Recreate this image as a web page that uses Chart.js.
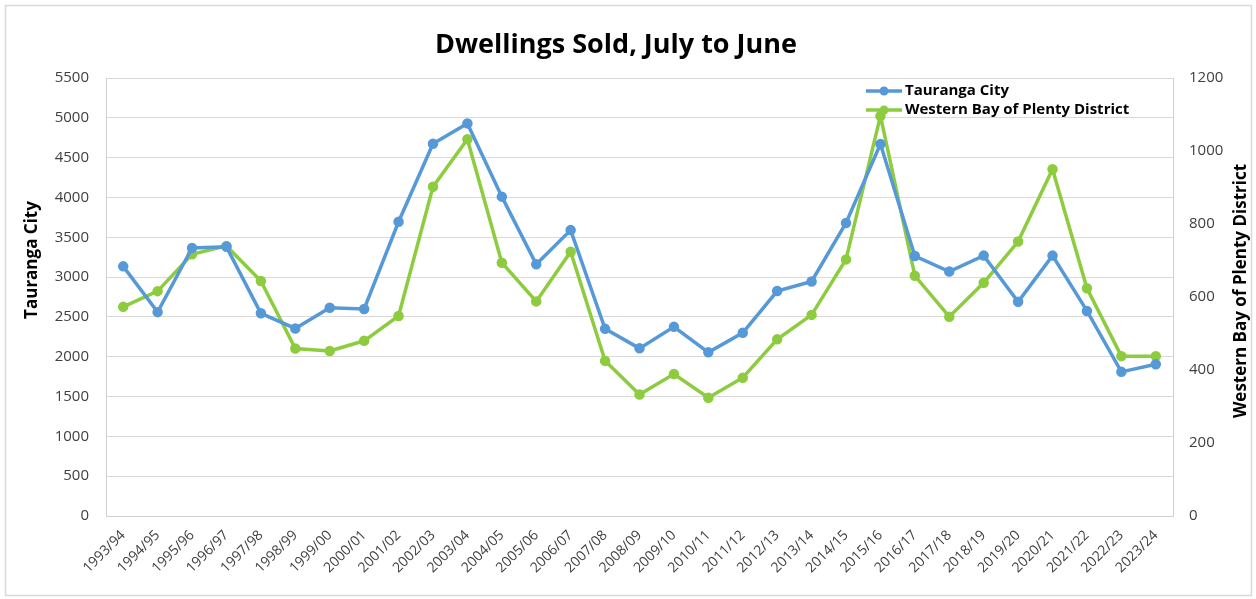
<!DOCTYPE html>
<html>
<head>
<meta charset="utf-8">
<script src="https://cdn.jsdelivr.net/npm/chart.js@4/dist/chart.umd.min.js"></script>
<style>
  html, body { margin: 0; padding: 0; background: #ffffff; }
  #wrap { width: 1256px; height: 599px; position: relative; }
</style>
</head>
<body>
<div id="wrap"><canvas id="c" width="1256" height="599"></canvas></div>
<script>
const categories = ["1993/94","1994/95","1995/96","1996/97","1997/98","1998/99","1999/00","2000/01","2001/02","2002/03","2003/04","2004/05","2005/06","2006/07","2007/08","2008/09","2009/10","2010/11","2011/12","2012/13","2013/14","2014/15","2015/16","2016/17","2017/18","2018/19","2019/20","2020/21","2021/22","2022/23","2023/24"];
const taurangaCity = [3135,2560,3365,3380,2545,2355,2615,2600,3695,4675,4930,4010,3160,3590,2350,2105,2375,2055,2300,2825,2945,3680,4670,3265,3070,3270,2690,3270,2575,1810,1905];
const westernBop = [573,616,717,740,644,459,452,480,548,902,1032,694,588,724,425,333,389,324,379,484,551,703,1096,658,546,639,752,950,624,438,438];
const leftTicks = [0,500,1000,1500,2000,2500,3000,3500,4000,4500,5000,5500];
const rightTicks = [0,200,400,600,800,1000,1200];
const chartTitle = 'Dwellings Sold, July to June';
const leftTitle = 'Tauranga City';
const rightTitle = 'Western Bay of Plenty District';

const FONT = "'Open Sans', 'Noto Sans', sans-serif";
const TXT = '#404040';

const bgPlugin = {
  id: 'bg',
  beforeDraw(chart) {
    const ctx = chart.ctx;
    ctx.save();
    ctx.fillStyle = '#ffffff';
    ctx.fillRect(0, 0, chart.width, chart.height);
    ctx.strokeStyle = '#d9d9d9';
    ctx.lineWidth = 1.5;
    ctx.strokeRect(5.5, 5.5, chart.width - 10, chart.height - 9);
    ctx.restore();
  }
};

const extrasPlugin = {
  id: 'extras',
  afterDraw(chart) {
    const ctx = chart.ctx;
    ctx.save();
    // chart title
    ctx.fillStyle = '#000000';
    ctx.font = "bold 27px " + FONT;
    ctx.textAlign = 'center';
    ctx.textBaseline = 'middle';
    ctx.fillText(chartTitle, 616, 45);
    // legend inside the plot area
    chart.data.datasets.forEach((ds, i) => {
      const y = 91 + i * 19;
      ctx.strokeStyle = ds.borderColor;
      ctx.lineWidth = 3.5;
      ctx.beginPath();
      ctx.moveTo(866, y);
      ctx.lineTo(902, y);
      ctx.stroke();
      ctx.fillStyle = ds.borderColor;
      ctx.beginPath();
      ctx.arc(884, y, 4.5, 0, Math.PI * 2);
      ctx.fill();
      ctx.fillStyle = '#000000';
      ctx.font = "bold 15px " + FONT;
      ctx.textBaseline = 'middle';
      ctx.textAlign = 'left';
      ctx.fillText(ds.label, 905, y);
    });
    // axis titles, reading bottom to top
    ctx.font = "bold 17px " + FONT;
    ctx.textAlign = 'center';
    ctx.textBaseline = 'middle';
    ctx.fillStyle = '#000000';
    ctx.save();
    ctx.translate(32, 260);
    ctx.rotate(-Math.PI / 2);
    ctx.fillText(leftTitle, 0, 0);
    ctx.restore();
    ctx.save();
    ctx.translate(1241, 291);
    ctx.rotate(-Math.PI / 2);
    ctx.fillText(rightTitle, 0, 0);
    ctx.restore();
    ctx.restore();
  }
};

new Chart(document.getElementById('c'), {
  type: 'line',
  data: {
    labels: categories,
    datasets: [
      {
        label: 'Tauranga City',
        data: taurangaCity,
        yAxisID: 'y',
        borderColor: '#5699D8',
        backgroundColor: '#5699D8',
        pointBackgroundColor: '#5699D8',
        pointBorderColor: '#5699D8',
        borderWidth: 3.5,
        pointRadius: 3.5,
        tension: 0
      },
      {
        label: 'Western Bay of Plenty District',
        data: westernBop,
        yAxisID: 'y1',
        borderColor: '#8DCB3F',
        backgroundColor: '#8DCB3F',
        pointBackgroundColor: '#8DCB3F',
        pointBorderColor: '#8DCB3F',
        borderWidth: 3.5,
        pointRadius: 3.5,
        tension: 0
      }
    ]
  },
  options: {
    responsive: false,
    animation: false,
    devicePixelRatio: 1,
    layout: { padding: { left: 0, right: 0, top: 78, bottom: 4 } },
    plugins: {
      legend: { display: false },
      tooltip: { enabled: false },
      title: { display: false }
    },
    scales: {
      x: {
        offset: true,
        grid: { display: false, drawTicks: false },
        border: { display: true, color: '#d0d0d0', width: 1 },
        ticks: {
          color: TXT,
          font: { family: FONT, size: 14 },
          minRotation: 45,
          maxRotation: 45,
          autoSkip: false,
          padding: 11
        },
        afterFit(scale) { scale.height = 79; }
      },
      y: {
        position: 'left',
        min: 0,
        max: 5500,
        afterBuildTicks(scale) { scale.ticks = leftTicks.map(v => ({ value: v })); },
        grid: { color: '#d9d9d9', lineWidth: 1, drawTicks: false },
        border: { display: true, color: '#d0d0d0', width: 1 },
        ticks: {
          color: TXT,
          font: { family: FONT, size: 15 },
          padding: 17,
          callback: (v) => String(v)
        },
        title: { display: false },
        afterFit(scale) { scale.width = 106; }
      },
      y1: {
        position: 'right',
        min: 0,
        max: 1200,
        afterBuildTicks(scale) { scale.ticks = rightTicks.map(v => ({ value: v })); },
        grid: { display: false, drawTicks: false },
        border: { display: true, color: '#d0d0d0', width: 1 },
        ticks: {
          color: TXT,
          font: { family: FONT, size: 15 },
          padding: 16,
          callback: (v) => String(v)
        },
        title: { display: false },
        afterFit(scale) { scale.width = 83; }
      }
    }
  },
  plugins: [bgPlugin, extrasPlugin]
});
</script>
</body>
</html>
